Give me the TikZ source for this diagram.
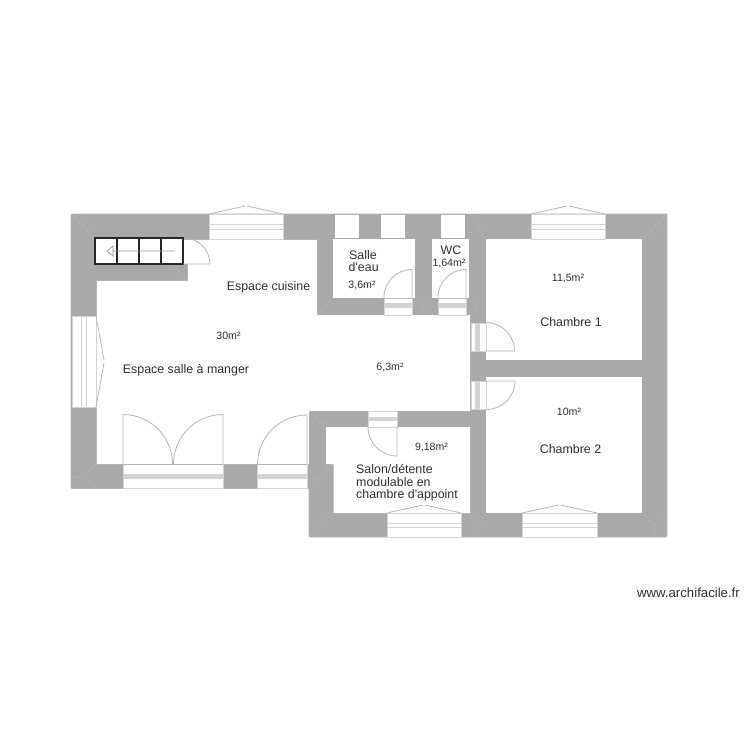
\documentclass[tikz,border=0pt]{standalone}
\usepackage{fontspec}
\setmainfont[Ligatures=TeXOff]{Liberation Sans}
\definecolor{wallc}{HTML}{A9A9A9}
\definecolor{linec}{HTML}{B8B8B8}
\definecolor{seamc}{HTML}{B4B4B4}
\definecolor{bandc}{HTML}{D4D4D4}
\definecolor{inkc}{HTML}{303030}
\tikzset{
 wall/.style={fill=wallc,draw=linec,line width=.7pt,rounded corners=1pt},
 room/.style={fill=white,draw=none},
 seam/.style={draw=seamc,line width=.5pt},
 opening/.style={fill=white,draw=bandc,line width=.9pt},
 band/.style={fill=bandc,draw=none},
 pane/.style={draw=bandc,line width=1pt},
 swing/.style={draw=linec,line width=.8pt},
 bigtxt/.style={font=\fontsize{12.4}{13}\selectfont,text=inkc,inner sep=0pt},
 smalltxt/.style={font=\fontsize{10.6}{12}\selectfont,text=inkc,inner sep=0pt},
 stair/.style={draw=black!85,line width=1.1pt,fill=white}
}
\begin{document}
\begin{tikzpicture}[x=1pt,y=-1pt]
\useasboundingbox (0,0) rectangle (750,750);
\fill[white] (0,0) rectangle (750,750);
% walls
\draw[wall] (71,214) -- (667,214) -- (667,537) -- (309,537) -- (309,488.5) -- (71,488.5) -- cycle;
% seams in wall
\draw[seam] (71,214) -- (96,239);
\draw[seam] (667,214) -- (642,239);
\draw[seam] (642,513) -- (654.5,525) -- (667,513) (654.5,525) -- (654.5,537);
\draw[seam] (470,513) -- (478,525) -- (486,513) (478,525) -- (478,537);
\draw[seam] (71,477) -- (84,477) -- (96,464) (84,477) -- (96,488.5);
\draw[seam] (309,411) -- (326,427);
\draw[seam] (310,487) -- (333,464);
\draw[seam] (309,537) -- (333,513);
\draw[seam] (317,315) -- (333,298);
\draw[seam] (415,298) -- (423,307) -- (432,298) (423,307) -- (423,315);
\draw[seam] (469,299) -- (477,307) -- (485,307) (477,307) -- (470,315);
\draw[seam] (470,239) -- (478,228) -- (486,239) (478,228) -- (478,214);
\draw[seam] (172,264) -- (187,280);
% rooms
\fill[room] (183,239) -- (317,239) -- (317,315) -- (470,315) -- (470,411) -- (309,411) -- (309,464) -- (96,464) -- (96,280) -- (187,280) -- (187,264) -- (183,264) -- cycle;
\fill[room] (333,239) rectangle (415,298);
\fill[room] (432,239) rectangle (469,298);
\fill[room] (486,239) rectangle (642,360);
\fill[room] (486,377) rectangle (642,513);
\fill[room] (326,427) -- (470,427) -- (470,513) -- (333.5,513) -- (333.5,464) -- (326,464) -- cycle;
% wall edges at rooms
\draw[seam,line width=.4pt] (183,239) -- (317,239) (96,280) -- (96,316) (96,407) -- (96,464) (187,264) -- (187,280) -- (96,280);
% blank top openings
\fill[room] (335,215) rectangle (359,238);
\fill[room] (381,215) rectangle (405,238);
\fill[room] (441,215) rectangle (465,238);
% top windows
\foreach \xa/\xb/\nm in {209/283/a,531/605/b}{
 \draw[opening] (\xa,214) rectangle (\xb,239);
 \draw[pane] (\xa,224) -- (\xb,224) (\xa,229) -- (\xb,229);
 \draw[swing] (\xa,214) -- ({(\xa+\xb)/2-1},206) ({(\xa+\xb)/2+1},206) -- (\xb,214);
}
% bottom-wall windows with chevron above
\foreach \xa/\xb/\nm in {387/461/c,522/597/d}{
 \draw[opening] (\xa,513) rectangle (\xb,537);
 \draw[pane] (\xa,523) -- (\xb,523) (\xa,527.5) -- (\xb,527.5);
 \draw[swing] (\xa,513) -- ({(\xa+\xb)/2-1},505) ({(\xa+\xb)/2+1},505) -- (\xb,513);
}
% left window
\draw[opening] (72,316) rectangle (96,407);
\draw[pane] (81,316) -- (81,407) (86,316) -- (86,407);
\draw[swing] (96,316) -- (104,360) (104,363) -- (96,407);
% patio doors
\draw[opening] (123,464) rectangle (223,488);
\fill[band] (123,474) rectangle (223,479);
\draw[opening] (257,464) rectangle (307,488);
\fill[band] (257,474) rectangle (307,479);
\draw[swing] (123,464) -- (123,414.5) arc[start angle=-90,end angle=0,radius=49.5];
\draw[swing] (223,464) -- (223,414.5) arc[start angle=-90,end angle=-180,radius=49.5];
\draw[swing] (307,464) -- (307,415) arc[start angle=-90,end angle=-180,radius=49.5];
\draw[swing] (123,464) -- (223,464) (257,464) -- (307,464);
% salle d'eau + wc doors
\foreach \xa/\xb in {384/412,438/466}{
 \draw[opening] (\xa,298) rectangle (\xb,315);
 \fill[band] (\xa,303) rectangle (\xb,308);
 \draw[swing] (\xb,298) -- (\xb,269.5) arc[start angle=-90,end angle=-180,radius=28];
 \draw[swing] (\xa,298) -- (\xb,298);
}
% right doors
\draw[opening] (471,323) rectangle (486,351);
\fill[band] (475,323) rectangle (480,351);
\draw[swing] (486,351) -- (514.5,351) arc[start angle=0,end angle=-90,radius=28.5];
\draw[opening] (471,381) rectangle (486,409);
\fill[band] (475,381) rectangle (480,409);
\draw[swing] (486,381) -- (515,381) arc[start angle=0,end angle=90,radius=28.5];
% salon door
\draw[opening] (368,411.5) rectangle (397,427);
\fill[band] (368,416.5) rectangle (397,421);
\draw[swing] (397,427) -- (397,456) arc[start angle=90,end angle=180,radius=29];
% stairs
\draw[stair] (95,238) rectangle (183,264);
\draw[stair,fill=none] (117,238) -- (117,264) (139,238) -- (139,264) (161,238) -- (161,264);
\draw[draw=gray!80,line width=.7pt] (175,251) -- (113,251) (113,246) -- (107,251) -- (113,256) -- cycle;
% cupboard door
\draw[swing] (183,264) -- (210,264) arc[start angle=0,end angle=-90,radius=26];
% texts
\node[bigtxt] (cuisine) at (268.5,287) {Espace cuisine};
\node[smalltxt] (a30) at (228.5,335.5) {30m²};
\node[bigtxt] (manger) at (186,370) {Espace salle à manger};
\node[smalltxt] (a63) at (390,367) {6,3m²};
\node[bigtxt,anchor=west] (salle) at (349,255) {Salle};
\node[bigtxt,anchor=west] (deau) at (348.5,267.5) {d'eau};
\node[smalltxt] (a36) at (362,285) {3,6m²};
\node[bigtxt] (wc) at (451,250) {WC};
\node[smalltxt] (a164) at (449,263) {1,64m²};
\node[smalltxt] (a115) at (568,278) {11,5m²};
\node[bigtxt] (ch1) at (571,322) {Chambre 1};
\node[smalltxt] (a10) at (569,412) {10m²};
\node[bigtxt] (ch2) at (570.5,449) {Chambre 2};
\node[smalltxt] (a918) at (431.5,447) {9,18m²};
\node[anchor=north west,inner sep=0pt,text=inkc,align=left,font=\fontsize{12.4}{12.8}\selectfont] (salon) at (356,464) {Salon/détente\\modulable en\\chambre d'appoint};
\node[anchor=east,text=inkc,inner sep=0pt,font=\fontsize{13.2}{14}\selectfont] (web) at (740,593) {www.archifacile.fr};
\end{tikzpicture}
\end{document}
